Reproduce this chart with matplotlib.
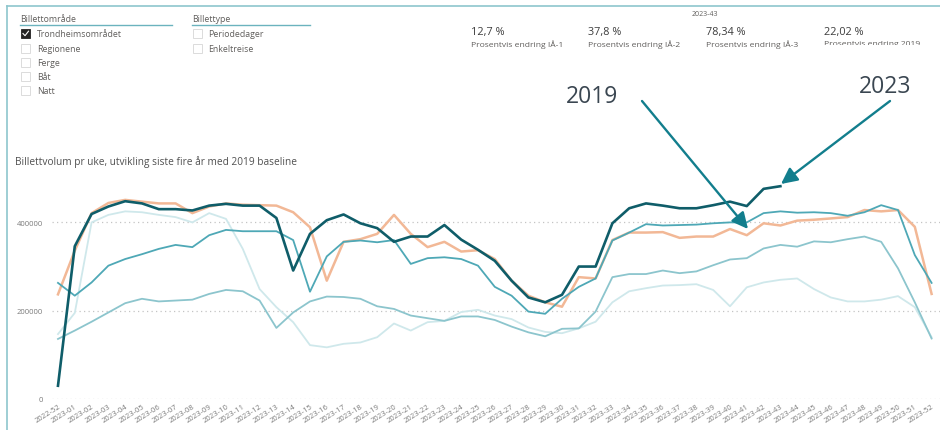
"""
Billettvolum pr uke - Power BI style dashboard
"""
import numpy as np
import matplotlib
matplotlib.use("Agg")
import matplotlib.pyplot as plt
from matplotlib.patches import Rectangle
from matplotlib.transforms import Bbox, TransformedBbox

plt.rcParams['font.family'] = ['Open Sans', 'DejaVu Sans']

# week labels
weeks = ["2022-52"] + ["2023-%02d" % w for w in range(1, 53)]

# weekly ticket volumes
v2023 = [30000, 346000, 419000, 436000, 448000, 443000, 430000, 430000, 427000, 438000,
         442000, 438000, 438000, 410000, 291000, 374000, 405000, 418000, 398000, 387000,
         356000, 368000, 368000, 394000, 361000, 338000, 313000, 268000, 230000, 219000,
         236000, 300000, 300000, 398000, 432000, 443000, 438000, 432000, 432000, 439000,
         447000, 437000, 476000, 482000]
v2019 = [237000, 336000, 421000, 444000, 451000, 447000, 443000, 443000, 421000, 436000,
         443000, 440000, 439000, 438000, 423000, 389000, 268000, 356000, 362000, 374000,
         417000, 374000, 344000, 356000, 334000, 337000, 317000, 268000, 234000, 219000,
         209000, 276000, 273000, 360000, 377000, 377000, 378000, 365000, 368000, 368000,
         385000, 371000, 398000, 393000, 404000, 406000, 409000, 412000, 428000, 425000,
         428000, 390000, 238000]
v2022 = [263000, 234000, 264000, 302000, 317000, 328000, 340000, 349000, 344000, 371000,
         383000, 380000, 380000, 380000, 360000, 243000, 323000, 356000, 359000, 355000,
         360000, 306000, 319000, 321000, 317000, 302000, 254000, 234000, 198000, 193000,
         227000, 254000, 273000, 359000, 377000, 396000, 393000, 394000, 395000, 398000,
         400000, 400000, 421000, 425000, 422000, 423000, 421000, 415000, 423000, 439000,
         428000, 326000, 263000]
v2021 = [136000, 155000, 175000, 196000, 217000, 227000, 221000, 223000, 225000, 238000,
         247000, 244000, 223000, 161000, 196000, 221000, 232000, 231000, 227000, 210000,
         204000, 189000, 183000, 177000, 187000, 187000, 179000, 164000, 151000, 142000,
         159000, 160000, 198000, 276000, 283000, 283000, 291000, 285000, 289000, 303000,
         316000, 319000, 341000, 349000, 345000, 357000, 355000, 362000, 368000, 356000,
         296000, 219000, 137000]
v2020 = [147000, 195000, 400000, 417000, 425000, 423000, 417000, 412000, 400000, 421000,
         408000, 340000, 249000, 208000, 174000, 122000, 117000, 125000, 128000, 140000,
         171000, 155000, 174000, 177000, 197000, 202000, 189000, 181000, 162000, 152000,
         149000, 160000, 175000, 219000, 244000, 251000, 257000, 258000, 260000, 247000,
         210000, 253000, 264000, 270000, 273000, 249000, 230000, 221000, 221000, 225000,
         233000, 208000, 140000]

area_items = ["Trondheimsområdet", "Regionene", "Ferge", "Båt", "Natt"]
type_items = ["Periodedager", "Enkeltreise"]
kpi_values = ["12,7 %", "37,8 %", "78,34 %", "22,02 %"]
kpi_labels = ["Prosentvis endring IÅ-1", "Prosentvis endring IÅ-2",
              "Prosentvis endring IÅ-3", "Prosentvis endring 2019"]

W, H = 940, 431
fig = plt.figure(figsize=(W / 100, H / 100), dpi=100)
fig.patch.set_facecolor("white")

# main line chart, axes placed in pixel terms
x0_px, x1_px = 52.1, 940.0
y0_px = 400.0
ymax = 500000
px_per_val = 88.3 / 200000
top_px = y0_px - ymax * px_per_val
ax = fig.add_axes([x0_px / W, (H - y0_px) / H, (x1_px - x0_px) / W, (y0_px - top_px) / H])
ax.set_xlim(-0.35, 52.5)
ax.set_ylim(0, ymax)

x = np.arange(len(weeks))
ax.plot(x, v2020, color="#CFE8EB", lw=1.3, solid_joinstyle="round")
ax.plot(x, v2021, color="#8CC5CD", lw=1.3, solid_joinstyle="round")
ax.plot(x, v2019, color="#F2B896", lw=1.8, solid_joinstyle="round")
ax.plot(x, v2022, color="#4EA8B6", lw=1.3, solid_joinstyle="round")
ax.plot(x[:len(v2023)], v2023, color="#0F5D69", lw=1.9, solid_joinstyle="round")

ax.set_yticks([0, 200000, 400000])
ax.set_yticklabels(["0", "200000", "400000"])
ax.set_xticks(x)
ax.set_xticklabels(weeks, rotation=32, ha="right", va="top", rotation_mode="anchor")
ax.tick_params(axis="both", length=0, labelsize=5.5, labelcolor="#7A7A7A")
ax.tick_params(axis="y", pad=6.5)
ax.tick_params(axis="x", pad=2.5)
ax.grid(axis="y", color="#C4C4C4", lw=0.9, linestyle=(0, (1, 2.6)))
ax.set_axisbelow(True)
for s in ax.spines.values():
    s.set_visible(False)

# overlay in pixel coordinates for the dashboard furniture
ov = fig.add_axes([0, 0, 1, 1], zorder=5)
ov.set_xlim(0, W)
ov.set_ylim(H, 0)
ov.axis("off")
ov.patch.set_alpha(0)

# frame lines
ov.plot([7, 7], [7, 431], color="#8EC6CD", lw=1.2)
ov.plot([7, 940], [7, 7], color="#8EC6CD", lw=1.2)

# slicers
txt_col = "#605E5C"
ov.text(20, 19.5, "Billettområde", fontsize=6.3, color=txt_col, va="center")
ov.plot([20, 172], [25.5, 25.5], color="#6BB3BE", lw=1.0)
ov.text(192, 19.5, "Billettype", fontsize=6.3, color=txt_col, va="center")
ov.plot([192, 310], [25.5, 25.5], color="#6BB3BE", lw=1.0)

rows = [34.5, 49, 63, 77, 91.5]
for i, name in enumerate(area_items):
    cy = rows[i]
    if i == 0:
        ov.add_patch(Rectangle((21, cy - 4.5), 9, 9, facecolor="#252423", edgecolor="#252423", lw=0.6))
        ov.plot([23, 25, 28.5], [cy, cy + 2.2, cy - 2.3], color="white", lw=0.8)
    else:
        ov.add_patch(Rectangle((21, cy - 4.5), 9, 9, facecolor="white", edgecolor="#D6D6D6", lw=0.6))
    ov.text(37, cy, name, fontsize=6.3, color=txt_col, va="center")
for i, name in enumerate(type_items):
    cy = rows[i]
    ov.add_patch(Rectangle((193, cy - 4.5), 9, 9, facecolor="white", edgecolor="#D6D6D6", lw=0.6))
    ov.text(208, cy, name, fontsize=6.3, color=txt_col, va="center")

# KPI cards
ov.text(705, 15, "2023-43", fontsize=5, color=txt_col, ha="center", va="center")
kx = [471, 588.5, 706, 823.5]
for i in range(4):
    ov.text(kx[i], 32.5, kpi_values[i], fontsize=7.8, color="#3C3C3C", va="center")
    t = ov.text(kx[i], 44.5, kpi_labels[i], fontsize=6.1, color=txt_col, va="center")
    if i == 3:
        t.set_clip_box(TransformedBbox(Bbox([[800, 0], [940, 46]]), ov.transData))
        t.set_clip_on(True)

# chart title
ov.text(15, 162.5, "Billettvolum pr uke, utvikling siste fire år med 2019 baseline",
        fontsize=7.3, color="#505050", va="center")

# callouts
ov.text(566, 97, "2019", fontsize=16.5, color="#3A4651", va="center")
ov.text(859, 87, "2023", fontsize=16.5, color="#3A4651", va="center")
arrow = dict(arrowstyle="-|>,head_length=0.65,head_width=0.32", color="#127E8D",
             lw=1.7, mutation_scale=15, shrinkA=0, shrinkB=0)
ov.annotate("", xy=(748, 230), xytext=(642, 102), arrowprops=arrow)
ov.annotate("", xy=(781, 185), xytext=(890, 102), arrowprops=arrow)

fig.savefig("out.png", dpi=100, facecolor="white")
